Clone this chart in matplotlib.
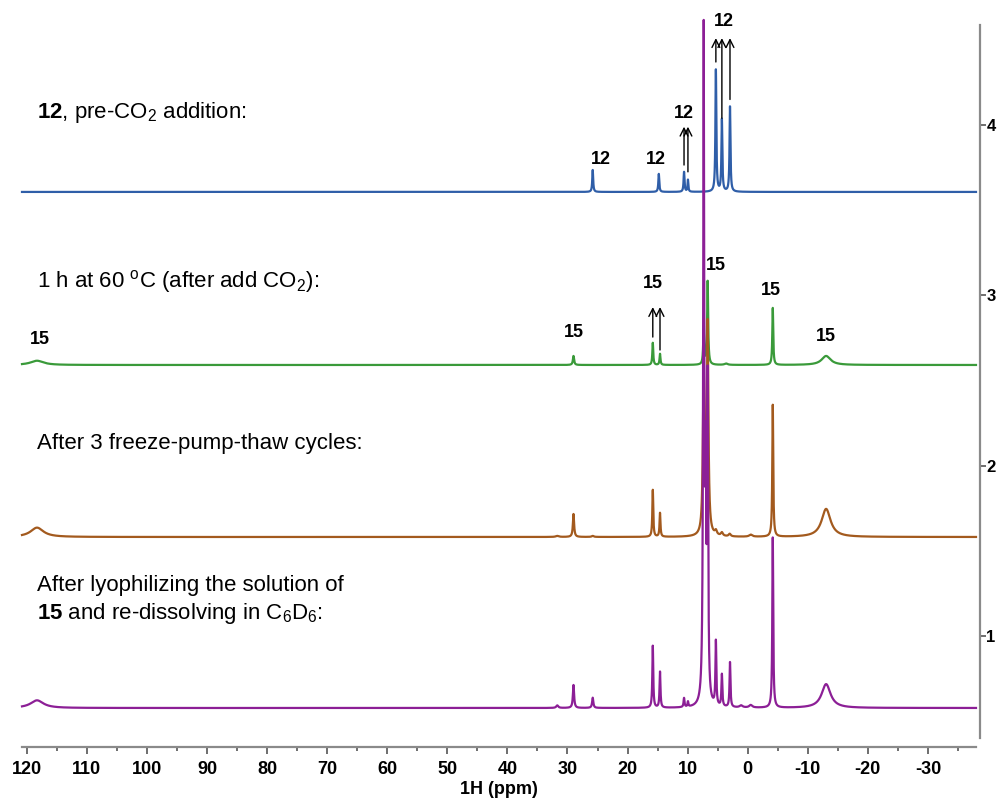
import numpy as np
import matplotlib
matplotlib.use('Agg')
import matplotlib.pyplot as plt

# ---- data ----
ppm_min, ppm_max = -38.0, 120.8

# peak position (ppm), height (offset units), half-width (ppm)
blue_pos = [25.8, 14.8, 10.6, 9.95, 5.3, 4.3, 2.95]
blue_h   = [0.129, 0.106, 0.117, 0.07, 0.716, 0.423, 0.50]
blue_w   = [0.09, 0.09, 0.09, 0.08, 0.09, 0.09, 0.09]

green_pos = [118.3, 29.0, 15.8, 14.6, 7.33, 6.67, 3.6, -4.17, -13.05]
green_h   = [0.025, 0.053, 0.13, 0.065, 0.20, 0.49, 0.008, 0.335, 0.053]
green_w   = [1.3, 0.12, 0.09, 0.09, 0.1, 0.1, 0.3, 0.09, 0.9]

brown_pos = [118.3, 31.7, 29.0, 25.8, 15.8, 14.6, 7.33, 6.67, 5.3, 4.3, 3.0, -0.5, -4.17, -13.05]
brown_h   = [0.055, 0.006, 0.135, 0.006, 0.276, 0.14, 1.0, 1.23, 0.025, 0.02, 0.015, 0.012, 0.775, 0.165]
brown_w   = [1.3, 0.3, 0.12, 0.2, 0.09, 0.09, 0.15, 0.15, 0.2, 0.2, 0.2, 0.3, 0.09, 0.9]

purple_pos = [118.3, 31.7, 29.0, 25.8, 15.8, 14.6, 10.6, 9.95, 7.33, 7.0, 6.67, 5.3, 4.3, 2.95, 1.1, -0.5, -4.17, -13.05]
purple_h   = [0.045, 0.015, 0.135, 0.06, 0.364, 0.211, 0.053, 0.03, 3.9, 1.2, 1.82, 0.376, 0.188, 0.264, 0.012, 0.015, 1.0, 0.14]
purple_w   = [1.3, 0.2, 0.12, 0.12, 0.09, 0.09, 0.09, 0.08, 0.1, 0.1, 0.1, 0.09, 0.09, 0.09, 0.3, 0.3, 0.09, 0.9]

offsets = [3.607, 2.591, 1.581, 0.577]
colors = ['#2f5ea8', '#3a9a3a', '#a35a1e', '#8c1f96']

# labels on the peaks: (ppm, y)
blue_labels = [(24.5, 3.795), (15.3, 3.795), (10.6, 4.07), (3.95, 4.605)]
blue_arrows = [(10.6, 3.765, 3.99), (9.95, 3.725, 3.99),
               (5.3, 4.37, 4.51), (4.3, 4.04, 4.51), (2.95, 4.15, 4.51)]
green_labels = [(117.8, 2.743), (28.95, 2.779), (15.83, 3.072), (5.28, 3.178), (-3.88, 3.031), (-13.05, 2.761)]
green_arrows = [(15.8, 2.755, 2.931), (14.6, 2.679, 2.931)]

titles = [r'$\mathbf{12}$, pre-CO$_2$ addition:',
          r'1 h at 60 $^{\mathrm{o}}$C (after add CO$_2$):',
          'After 3 freeze-pump-thaw cycles:',
          'After lyophilizing the solution of',
          r'$\mathbf{15}$ and re-dissolving in C$_6$D$_6$:']
title_y = [118, 287, 449, 591, 619]  # baseline, pixels from top

xticks = list(range(120, -31, -10))
yticks = [1, 2, 3, 4]

plt.rcParams['font.family'] = ['Liberation Sans', 'DejaVu Sans']
plt.rcParams['mathtext.fontset'] = 'custom'
plt.rcParams['mathtext.rm'] = 'Liberation Sans'
plt.rcParams['mathtext.it'] = 'Liberation Sans:italic'
plt.rcParams['mathtext.bf'] = 'Liberation Sans:bold'


def spectrum(x, pos, h, w):
    y = np.zeros_like(x)
    for p, a, g in zip(pos, h, w):
        y += a * g**2 / ((x - p)**2 + g**2)
    return y


W, H = 1003, 801
fig = plt.figure(figsize=(W / 100, H / 100), dpi=100)
ax = fig.add_axes([22 / W, (H - 747) / H, (976 - 22) / W, (747 - 16) / H])

x = np.linspace(ppm_max, ppm_min, 24000)
series = [(blue_pos, blue_h, blue_w), (green_pos, green_h, green_w),
          (brown_pos, brown_h, brown_w), (purple_pos, purple_h, purple_w)]
for (pos, h, w), off, c in zip(series, offsets, colors):
    ax.plot(x, off + spectrum(x, pos, h, w), color=c, lw=1.6, clip_on=False)

ax.set_xlim(ppm_max, ppm_min)
ax.set_ylim(0.348, 4.64)

# axes styling
for s in ['left', 'top']:
    ax.spines[s].set_visible(False)
for s in ['bottom', 'right']:
    ax.spines[s].set_color('#8a8a8a')
    ax.spines[s].set_linewidth(1.6)
ax.spines['right'].set_position(('outward', 3))
ax.spines['right'].set_bounds(0.40, 4.587)

ax.set_xticks(xticks)
ax.set_xticks(np.arange(115, -40, -10), minor=True)
ax.set_xticklabels([str(t) for t in xticks], fontsize=13, fontweight='bold')
ax.tick_params(axis='x', which='major', length=5, width=1.2, color='#555555', pad=5)
ax.tick_params(axis='x', which='minor', length=3, width=1.2, color='#555555')

ax.yaxis.set_ticks_position('right')
ax.set_yticks(yticks)
ax.set_yticklabels([str(t) for t in yticks], fontsize=12, fontweight='bold')
ax.tick_params(axis='y', length=4, width=1.2, color='#555555', pad=0.5)

ax.set_xlabel('1H (ppm)', fontsize=13, fontweight='bold', va='center')
ax.xaxis.set_label_coords(0.5, (747 - 789) / 731)

# peak labels and arrows
for px, py in blue_labels:
    ax.text(px, py, '12', fontsize=13, fontweight='bold', ha='center', va='center')
for px, py in green_labels:
    ax.text(px, py, '15', fontsize=13, fontweight='bold', ha='center', va='center')
for px, y0, y1 in blue_arrows + green_arrows:
    ax.annotate('', xy=(px, y1), xytext=(px, y0), annotation_clip=False,
                arrowprops=dict(arrowstyle='->', lw=1.0, color='black',
                                mutation_scale=14, shrinkA=0, shrinkB=0))

# condition texts
for t, yb in zip(titles, title_y):
    fig.text(37 / W, 1 - yb / H, t, fontsize=16, ha='left', va='baseline')

fig.savefig('out.png', dpi=100)
